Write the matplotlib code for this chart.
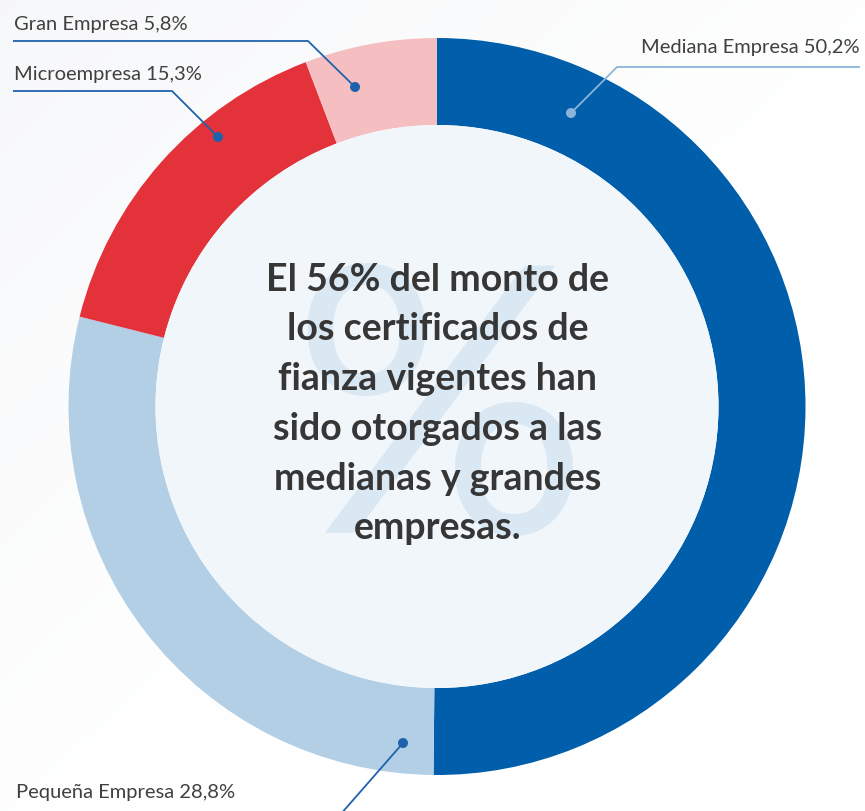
import numpy as np
import matplotlib.pyplot as plt
from matplotlib.patches import Circle

# data
segments = ['Mediana Empresa', 'Pequeña Empresa', 'Microempresa', 'Gran Empresa']
shares = [50.2, 28.8, 15.3, 5.8]
share_labels = ['50,2%', '28,8%', '15,3%', '5,8%']
colors = ['#005EAA', '#B3CFE5', '#E3323A', '#F5BFC2']
headline = ('El 56% del monto de\nlos certificados de\nfianza vigentes han\n'
            'sido otorgados a las\nmedianas y grandes\nempresas.')

W, H = 865, 811
cx, cy = 437, H - 406.5
r_out, ring = 368.5, 87

fig = plt.figure(figsize=(W / 100, H / 100), dpi=100)
ax = fig.add_axes([0, 0, 1, 1])

# faint background shading towards the lower left
gx, gy = np.meshgrid(np.linspace(0, 1, 200), np.linspace(0, 1, 200))
shade = np.clip((1 - gx) * 0.6 + (1 - gy) * 0.6 - 0.5, 0, 1)
bg = np.ones((200, 200, 3)) - shade[..., None] * np.array([0.045, 0.04, 0.03])
ax.imshow(bg, extent=[0, W, 0, H], origin='upper', zorder=0, aspect='auto')

wedges, _ = ax.pie(shares, colors=colors, startangle=90, counterclock=False,
                   center=(cx, cy), radius=r_out, frame=True,
                   wedgeprops=dict(width=ring, edgecolor='none', linewidth=0))
for w in wedges:
    w.set_zorder(2)

ax.add_patch(Circle((cx, cy), r_out - ring, facecolor='#F1F6FB', edgecolor='none', zorder=2))

# watermark percent sign
ax.text(cx + 3, H - 428, '%', fontsize=268, color='#DAE8F4', ha='center', va='center',
        family='Lato', fontweight='normal', zorder=3)

ax.text(cx + 1, H - 404, headline, fontsize=27, fontweight='bold', color='#363636',
        ha='center', va='center', linespacing=1.56, family='Lato', zorder=4)

# labels with leader lines: (text x, text baseline y, ha, line path, colour)
dark_line = '#1F62AC'
label_layout = [
    (860, 53, 'right', [(860, 67), (617, 67), (571, 113)], '#8AB4DA'),
    (16, 798, 'left', [(403, 743), (340, 815)], dark_line),
    (14, 80, 'left', [(13, 91), (172, 91), (218, 137)], dark_line),
    (14, 30, 'left', [(13, 41), (308, 41), (355, 87)], dark_line),
]

for name, val, (tx, ty, ha, path, lc) in zip(segments, share_labels, label_layout):
    ax.text(tx, H - ty, f'{name} {val}', fontsize=14.5, color='#404040', ha=ha,
            va='baseline', family='Lato', fontweight='normal', zorder=5)
    xs = [p[0] for p in path]
    ys = [H - p[1] for p in path]
    ax.plot(xs, ys, color=lc, lw=1.3, zorder=5, solid_capstyle='butt')
    dx, dy = path[-1] if len(path) > 2 else path[0]
    ax.add_patch(Circle((dx, H - dy), 5, facecolor=lc, edgecolor='none', zorder=6))

ax.set_xlim(0, W)
ax.set_ylim(0, H)
ax.set_aspect('auto')
ax.axis('off')

fig.savefig('out.png', dpi=100)
